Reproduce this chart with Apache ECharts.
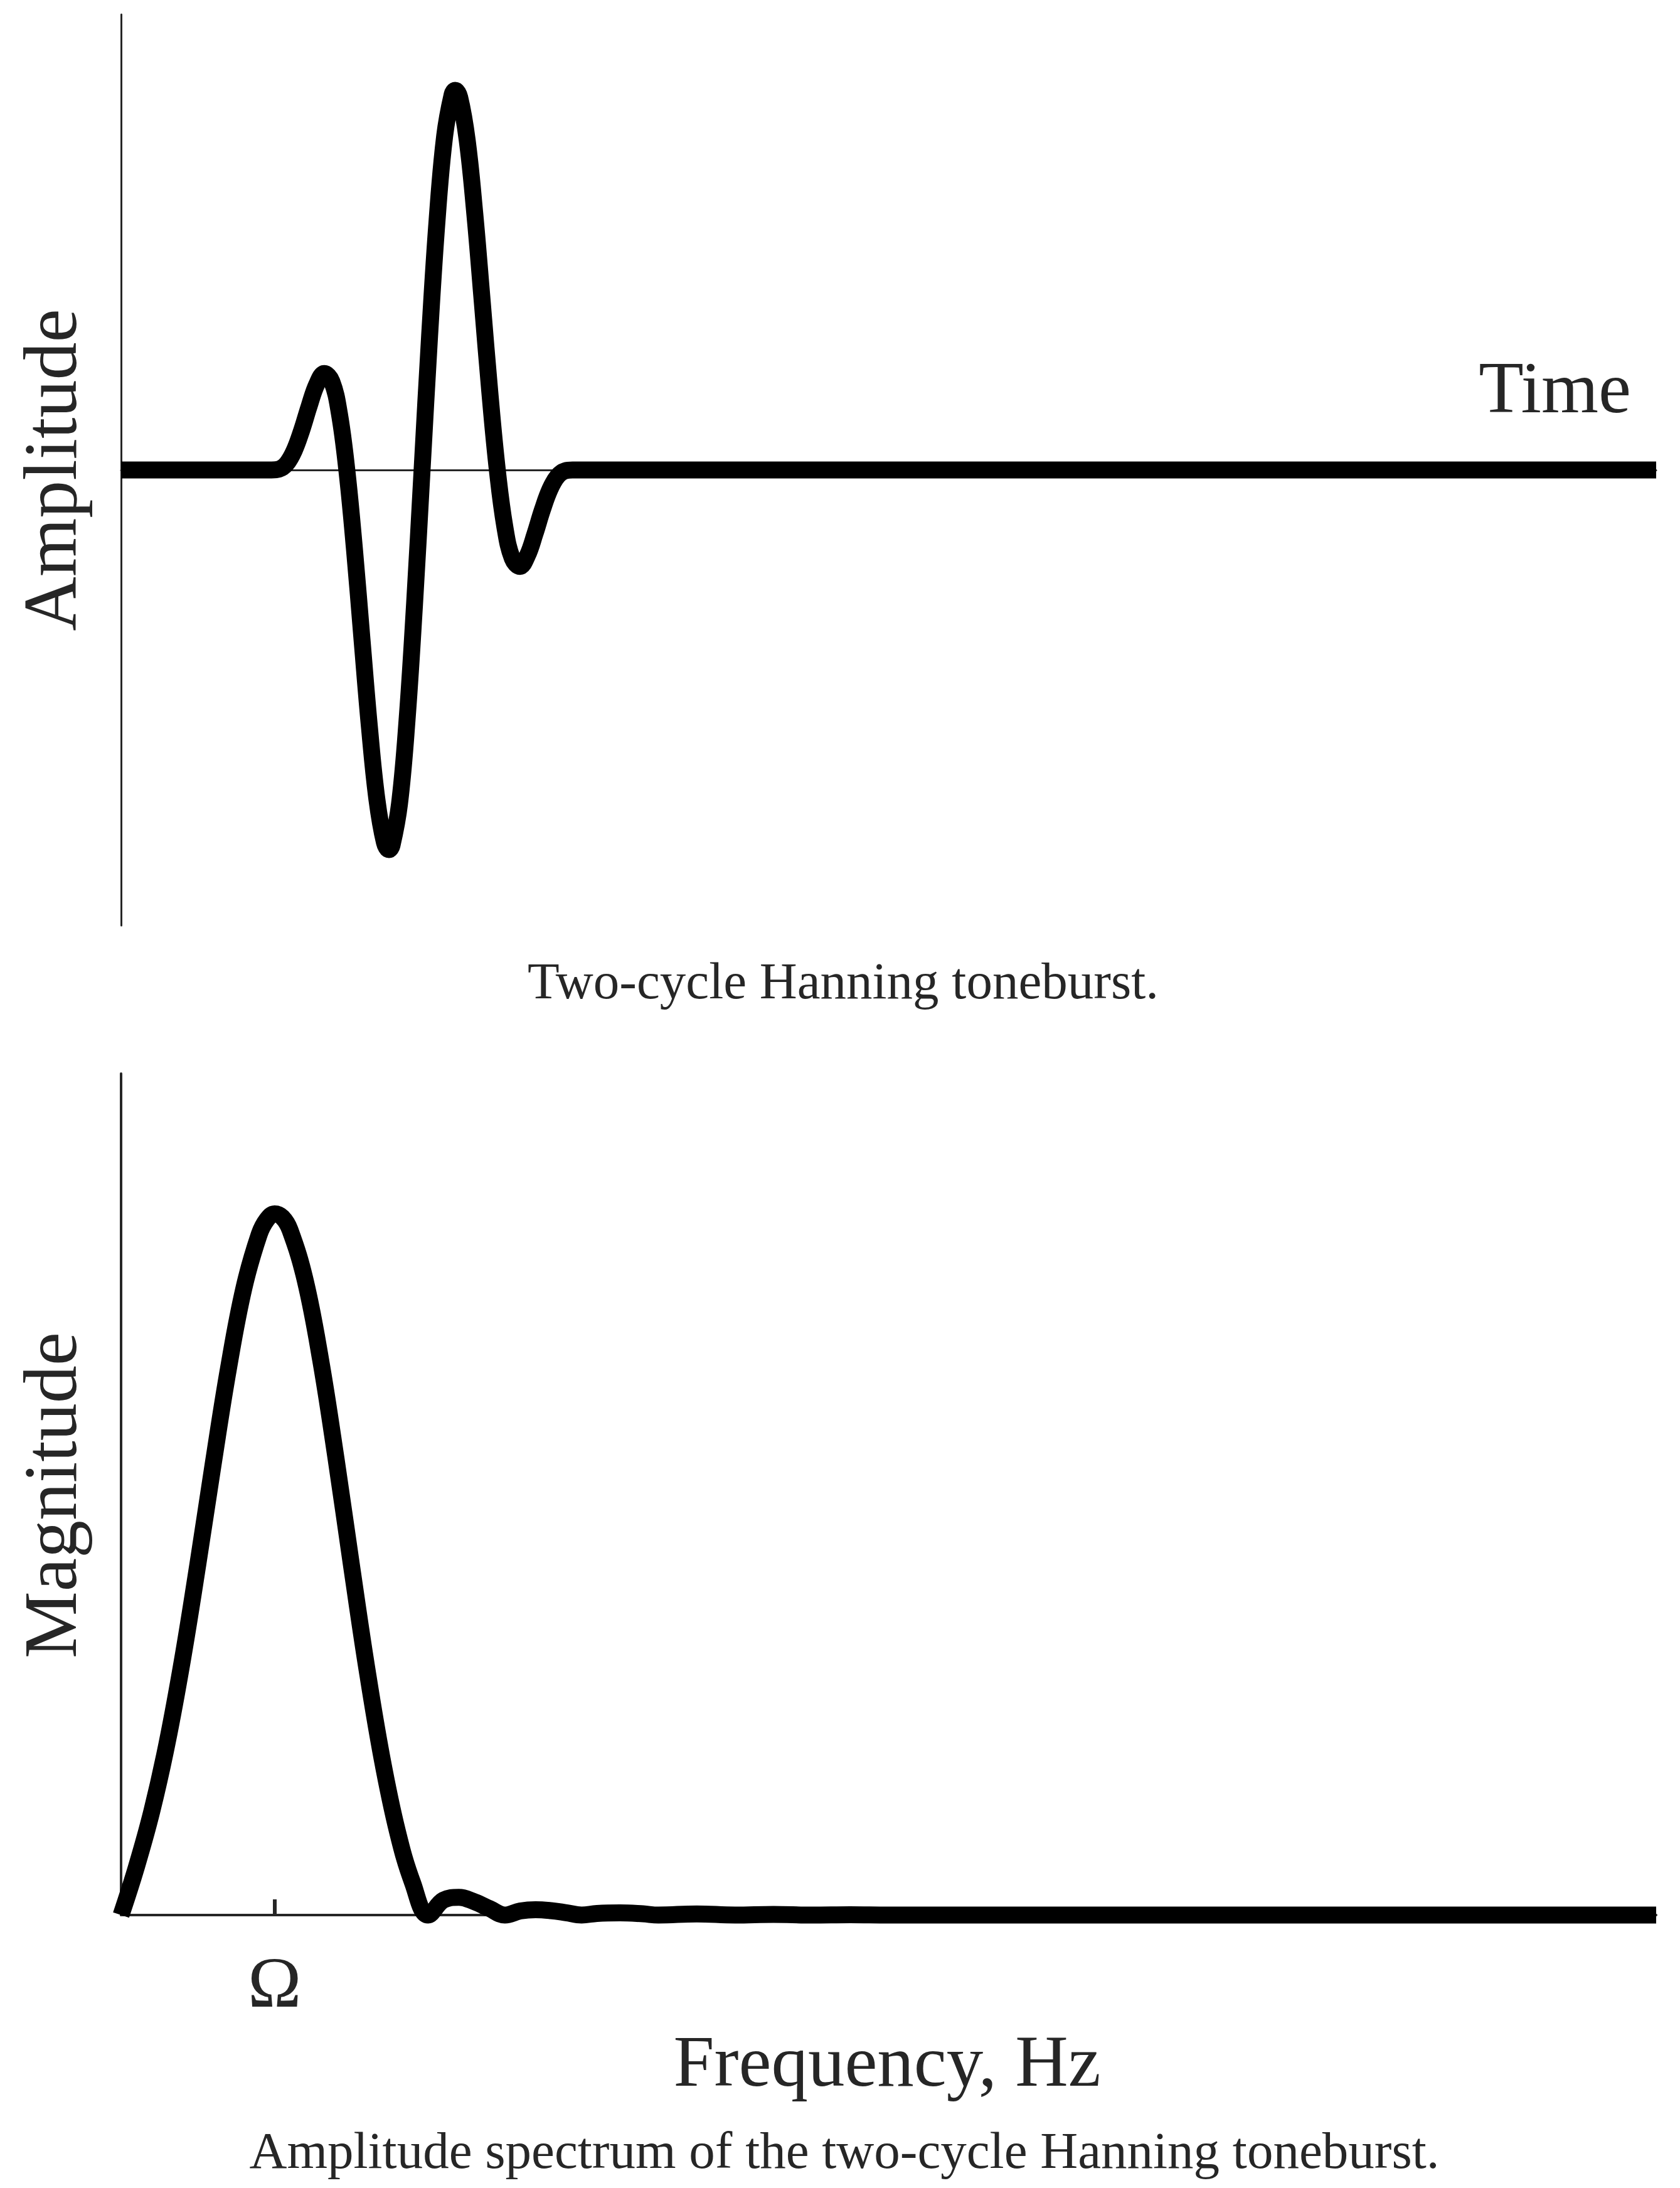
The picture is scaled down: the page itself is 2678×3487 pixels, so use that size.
<!DOCTYPE html>
<html>
<head>
<meta charset="utf-8">
<script src="https://cdn.jsdelivr.net/npm/echarts@6/dist/echarts.min.js"></script>
<style>
html,body{margin:0;padding:0;background:#fff;}
#chart{width:2678px;height:3487px;}
</style>
</head>
<body>
<div id="chart"></div>
<script>
// Top panel: two-cycle Hanning toneburst (time in arbitrary units, amplitude normalised)
const burstTime = [0, 1.00, 1.05, 1.10, 1.15, 1.20, 1.25, 1.30, 1.35, 1.40, 1.45, 1.50, 1.55, 1.60, 1.65, 1.70, 1.75, 1.78, 1.80, 1.85, 1.90, 1.95, 2.00, 2.05, 2.10, 2.15, 2.20, 2.22, 2.25, 2.30, 2.35, 2.40, 2.45, 2.50, 2.55, 2.60, 2.65, 2.70, 2.75, 2.80, 2.85, 2.90, 2.95, 3.00, 10.2];
const burstAmplitude = [0, 0, 0.0022, 0.0165, 0.0507, 0.1044, 0.1684, 0.2254, 0.2540, 0.2335, 0.1499, 0, -0.2055, -0.4424, -0.6764, -0.8683, -0.9816, -1.0000, -0.9892, -0.8796, -0.6594, -0.3532, 0, 0.3532, 0.6594, 0.8796, 0.9892, 1.0000, 0.9816, 0.8683, 0.6764, 0.4424, 0.2055, 0, -0.1499, -0.2335, -0.2540, -0.2254, -0.1684, -0.1044, -0.0507, -0.0165, -0.0022, 0, 0];

// Bottom panel: amplitude spectrum (frequency in units of Omega, magnitude normalised)
const freq = [0, 0.1, 0.2, 0.3, 0.4, 0.5, 0.6, 0.7, 0.8, 0.9, 0.95, 1.0, 1.05, 1.1, 1.2, 1.3, 1.4, 1.5, 1.6, 1.7, 1.8, 1.9, 2.0, 2.1, 2.2, 2.3, 2.4, 2.5, 2.6, 2.7, 2.8, 2.9, 3.0, 3.1, 3.25, 3.4, 3.5, 3.75, 4.0, 4.25, 4.5, 4.75, 5.0, 10];
const magnitude = [0, 0.0686, 0.1478, 0.2455, 0.3641, 0.5000, 0.6433, 0.7800, 0.8940, 0.9708, 0.9918, 1.0000, 0.9951, 0.9772, 0.9048, 0.7917, 0.6514, 0.5000, 0.3530, 0.2233, 0.1195, 0.0454, 0, 0.0213, 0.0253, 0.0191, 0.0092, 0, 0.0058, 0.0077, 0.0063, 0.0033, 0, 0.0023, 0.0031, 0.0017, 0, 0.0016, 0, 0.0009, 0, 0.0005, 0, 0];

const freqTickValues = [1];
const freqTickLabels = ['Ω'];

const topCaption = 'Two-cycle Hanning toneburst.';
const bottomCaption = 'Amplitude spectrum of the two-cycle Hanning toneburst.';

const FONT = '"Liberation Serif", "DejaVu Serif", serif';
const TXT = '#262626';

const chart = echarts.init(document.getElementById('chart'), null, {renderer: 'svg'});

const thinAxis = {show: true, onZero: true, lineStyle: {color: TXT, width: 3}};
const hidden = {show: false};

const option = {
  animation: false,
  backgroundColor: '#ffffff',
  grid: [
    {left: 193, top: 23, width: 2447, height: 1452},
    {left: 193, top: 1711, width: 2447, height: 1341}
  ],
  xAxis: [
    {gridIndex: 0, type: 'value', min: 0, max: 10.2,
     axisLine: thinAxis, axisTick: hidden, axisLabel: hidden, splitLine: hidden},
    {gridIndex: 1, type: 'value', min: 0, max: 10, interval: 1,
     axisLine: {show: true, lineStyle: {color: TXT, width: 4}},
     axisTick: {show: true, inside: true, length: 25, customValues: freqTickValues,
                lineStyle: {color: TXT, width: 6}},
     axisLabel: {show: true, customValues: freqTickValues,
                 formatter: function (v) { const i = freqTickValues.indexOf(v); return i >= 0 ? freqTickLabels[i] : ''; },
                 fontSize: 115, fontFamily: FONT, color: TXT, margin: 50},
     splitLine: hidden}
  ],
  yAxis: [
    {gridIndex: 0, type: 'value', min: -1.2, max: 1.2,
     axisLine: thinAxis, axisTick: hidden, axisLabel: hidden, splitLine: hidden},
    {gridIndex: 1, type: 'value', min: 0, max: 1.2,
     axisLine: {show: true, onZero: false, lineStyle: {color: TXT, width: 4}},
     axisTick: hidden, axisLabel: hidden, splitLine: hidden}
  ],
  series: [
    {type: 'line', xAxisIndex: 0, yAxisIndex: 0, showSymbol: false, symbol: 'none',
     smooth: 0.4, clip: false, z: 5,
     lineStyle: {color: '#000000', width: 27, cap: 'butt', join: 'round'},
     data: burstTime.map((t, i) => [t, burstAmplitude[i]])},
    {type: 'line', xAxisIndex: 1, yAxisIndex: 1, showSymbol: false, symbol: 'none',
     smooth: 0.4, clip: false, z: 5,
     lineStyle: {color: '#000000', width: 27, cap: 'butt', join: 'round'},
     data: freq.map((f, i) => [f, magnitude[i]])}
  ],
  graphic: [
    {type: 'text', x: 2600, y: 676, style: {text: 'Time', font: '117px ' + FONT, fill: TXT, textAlign: 'right', textVerticalAlign: 'bottom'}},
    {type: 'text', x: 80, y: 749, rotation: Math.PI / 2, style: {text: 'Amplitude', font: '120px ' + FONT, fill: TXT, textAlign: 'center', textVerticalAlign: 'middle'}},
    {type: 'text', x: 80, y: 2383, rotation: Math.PI / 2, style: {text: 'Magnitude', font: '120px ' + FONT, fill: TXT, textAlign: 'center', textVerticalAlign: 'middle'}},
    {type: 'text', x: 1414, y: 3343, style: {text: 'Frequency, Hz', font: '117px ' + FONT, fill: TXT, textAlign: 'center', textVerticalAlign: 'bottom'}},
    {type: 'text', x: 1344, y: 1604, style: {text: topCaption, font: '83px ' + FONT, fill: TXT, textAlign: 'center', textVerticalAlign: 'bottom'}},
    {type: 'text', x: 1346, y: 3468, style: {text: bottomCaption, font: '83px ' + FONT, fill: TXT, textAlign: 'center', textVerticalAlign: 'bottom'}}
  ]
};
chart.setOption(option);
</script>
</body>
</html>
